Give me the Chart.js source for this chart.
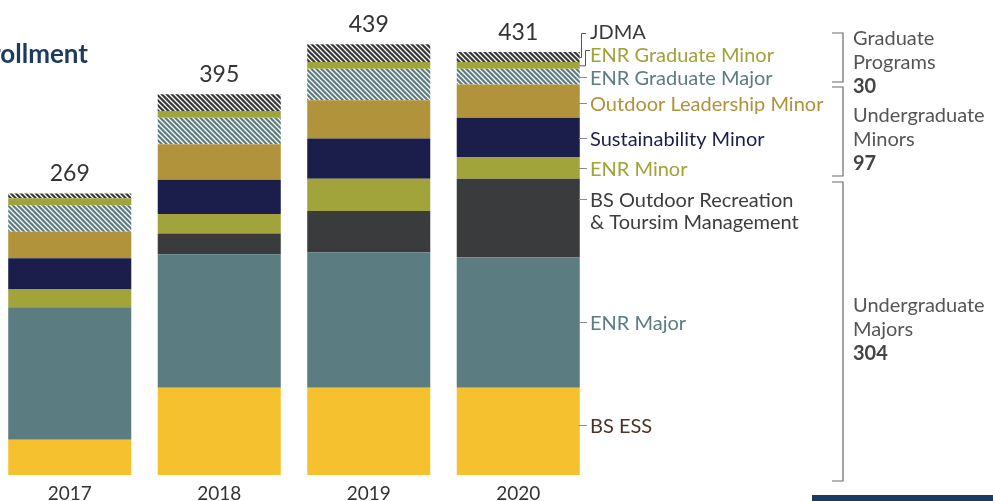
<!DOCTYPE html>
<html>
<head>
<meta charset="utf-8">
<script src="https://cdn.jsdelivr.net/npm/chart.js@4"></script>
<style>
  html, body { margin: 0; padding: 0; background: #fff; }
  body { width: 993px; height: 501px; overflow: hidden; position: relative; }
  .wrap { position: absolute; left: -5px; top: 0; width: 998px; height: 501px; }
</style>
</head>
<body>
<div class="wrap"><canvas id="enrollChart"></canvas></div>
<script>
// Datos: matrícula por programa (de abajo hacia arriba en cada barra)
const years = ['2017', '2018', '2019', '2020'];
const totals = [269, 395, 439, 431];
const bsEss = [36, 89, 89, 89];
const enrMajor = [135, 136, 138, 133];
const bsOutdoorRec = [0, 21, 42, 80];
const enrMinor = [18, 20, 33, 22];
const sustMinor = [32, 35, 41, 40];
const outdoorMinor = [27, 36, 39, 34];
const enrGradMajor = [27, 27, 32, 16];
const enrGradMinor = [7, 7, 7, 7];
const jdma = [5, 17, 18, 10];

const groupTitles = [['Graduate', 'Programs'], ['Undergraduate', 'Minors'], ['Undergraduate', 'Majors']];
const groupTotals = [30, 97, 304];

const OX = 5; // desplazamiento del canvas respecto a la página
const FONT = 'Lato, "Open Sans", sans-serif';

function hatch(base) {
    const n = 5;
    const c = document.createElement('canvas');
    c.width = n; c.height = n;
    const g = c.getContext('2d');
    g.fillStyle = base;
    g.fillRect(0, 0, n, n);
    g.strokeStyle = '#ffffff';
    g.lineWidth = 1.3;
    g.beginPath();
    g.moveTo(-1, -1); g.lineTo(n + 1, n + 1);
    g.moveTo(n - 2, -2); g.lineTo(n + 2, 2);
    g.moveTo(-2, n - 2); g.lineTo(2, n + 2);
    g.stroke();
    return c;
}

const ctx = document.getElementById('enrollChart').getContext('2d');
const tealHatch = ctx.createPattern(hatch('#5b7c80'), 'repeat');
const darkHatch = ctx.createPattern(hatch('#363636'), 'repeat');

// Etiquetas de la derecha (índice de dataset, color, desplazamiento)
const seriesLabels = [
    { ds: 0, text: ['BS ESS'], color: '#4b3328', dy: -6 },
    { ds: 1, text: ['ENR Major'], color: '#5b7c80', dy: 0 },
    { ds: 2, text: ['BS Outdoor Recreation', '& Toursim Management'], color: '#3d3d3f', dy: -19 },
    { ds: 3, text: ['ENR Minor'], color: '#a0a23a', dy: 0 },
    { ds: 4, text: ['Sustainability Minor'], color: '#1c1e4d', dy: 1 },
    { ds: 5, text: ['Outdoor Leadership Minor'], color: '#b0923a', dy: 2 },
    { ds: 6, text: ['ENR Graduate Major'], color: '#5b7c80', dy: 0 },
    { ds: 7, text: ['ENR Graduate Minor'], color: '#a0a23a', elbow: 585, textY: 50 },
    { ds: 8, text: ['JDMA'], color: '#3a3a3a', elbow: 581, textY: 33 }
];

const annotations = {
    id: 'annotations',
    afterDraw(chart) {
        const c = chart.ctx;
        const xs = chart.scales.x, ys = chart.scales.y;
        const meta0 = chart.getDatasetMeta(0);
        const last = years.length - 1;
        c.save();

        // totales sobre las barras
        c.fillStyle = '#333';
        c.font = '23px ' + FONT;
        c.textAlign = 'center';
        c.textBaseline = 'alphabetic';
        years.forEach((y, i) => {
            let sum = 0;
            chart.data.datasets.forEach(d => { sum += d.data[i]; });
            c.fillText(String(totals[i]), xs.getPixelForValue(i), ys.getPixelForValue(sum) - 12);
        });

        // años bajo las barras
        c.font = '19px ' + FONT;
        years.forEach((y, i) => {
            c.fillText(y, xs.getPixelForValue(i), 500);
        });

        // título recortado
        c.fillStyle = '#1c3b5e';
        c.font = 'bold 26px ' + FONT;
        c.textAlign = 'right';
        c.fillText('Total Enrollment', 88 + OX, 63);

        // etiquetas de series con líneas guía
        const barRight = meta0.data[last].x + meta0.data[last].width / 2;
        const cum = [];
        let acc = 0;
        chart.data.datasets.forEach((d, k) => { cum[k] = acc + d.data[last] / 2; acc += d.data[last]; });
        c.textAlign = 'left';
        c.font = '20px ' + FONT;
        c.lineWidth = 1;
        seriesLabels.forEach(l => {
            const mid = ys.getPixelForValue(cum[l.ds]);
            c.beginPath();
            if (l.elbow) {
                const ex = l.elbow + OX;
                c.strokeStyle = '#555';
                c.moveTo(barRight, mid + 0.5);
                c.lineTo(ex + 0.5, mid + 0.5);
                c.lineTo(ex + 0.5, l.textY + 0.5);
                c.lineTo(ex + 5, l.textY + 0.5);
                c.stroke();
                c.fillStyle = l.color;
                c.fillText(l.text[0], 590 + OX, l.textY + (l.ds === 8 ? 6 : 12));
            } else {
                const ly = Math.round(mid + l.dy) + 0.5;
                c.strokeStyle = '#8c8c8c';
                c.moveTo(barRight - 1, ly);
                c.lineTo(587 + OX, ly);
                c.stroke();
                c.fillStyle = l.color;
                l.text.forEach((t, j) => c.fillText(t, 590 + OX, ly + 7.5 + j * 22));
            }
        });

        // corchetes de grupos
        const brackets = [[33, 82], [87, 176], [182, 481]];
        const textTop = [45, 122, 312];
        c.strokeStyle = '#6a6a6a';
        c.lineWidth = 1.2;
        brackets.forEach((b, i) => {
            const bx = 843 + OX;
            c.beginPath();
            c.moveTo(832 + OX, b[0]); c.lineTo(bx, b[0]); c.lineTo(bx, b[1]); c.lineTo(832 + OX, b[1]);
            c.stroke();
            c.fillStyle = '#555';
            c.font = '20px ' + FONT;
            groupTitles[i].forEach((t, j) => c.fillText(t, 853 + OX, textTop[i] + j * 24));
            c.fillStyle = '#454545';
            c.font = 'bold 20px ' + FONT;
            c.fillText(String(groupTotals[i]), 853 + OX, textTop[i] + 48);
        });

        // barra azul inferior
        c.fillStyle = '#1c3b5e';
        c.fillRect(812 + OX, 495, 200, 6);
        c.restore();
    }
};

new Chart(ctx, {
    type: 'bar',
    data: {
        labels: years,
        datasets: [
            { label: 'BS ESS', data: bsEss, backgroundColor: '#f6c12f' },
            { label: 'ENR Major', data: enrMajor, backgroundColor: '#5b7c80' },
            { label: 'BS Outdoor Recreation & Toursim Management', data: bsOutdoorRec, backgroundColor: '#3a3b3d' },
            { label: 'ENR Minor', data: enrMinor, backgroundColor: '#a1a43a' },
            { label: 'Sustainability Minor', data: sustMinor, backgroundColor: '#1b1d4b' },
            { label: 'Outdoor Leadership Minor', data: outdoorMinor, backgroundColor: '#b0933a' },
            { label: 'ENR Graduate Major', data: enrGradMajor, backgroundColor: tealHatch },
            { label: 'ENR Graduate Minor', data: enrGradMinor, backgroundColor: '#a1a43a' },
            { label: 'JDMA', data: jdma, backgroundColor: darkHatch }
        ]
    },
    options: {
        responsive: true,
        maintainAspectRatio: false,
        devicePixelRatio: 1,
        animation: false,
        layout: { padding: { left: 0, right: 400, top: 4, bottom: 26 } },
        datasets: { bar: { barPercentage: 0.823, categoryPercentage: 1, borderWidth: 0 } },
        plugins: { legend: { display: false }, tooltip: { enabled: false } },
        scales: {
            x: { stacked: true, display: false },
            y: { stacked: true, display: false, min: 0, max: 480 }
        }
    },
    plugins: [annotations]
});
</script>
</body>
</html>
